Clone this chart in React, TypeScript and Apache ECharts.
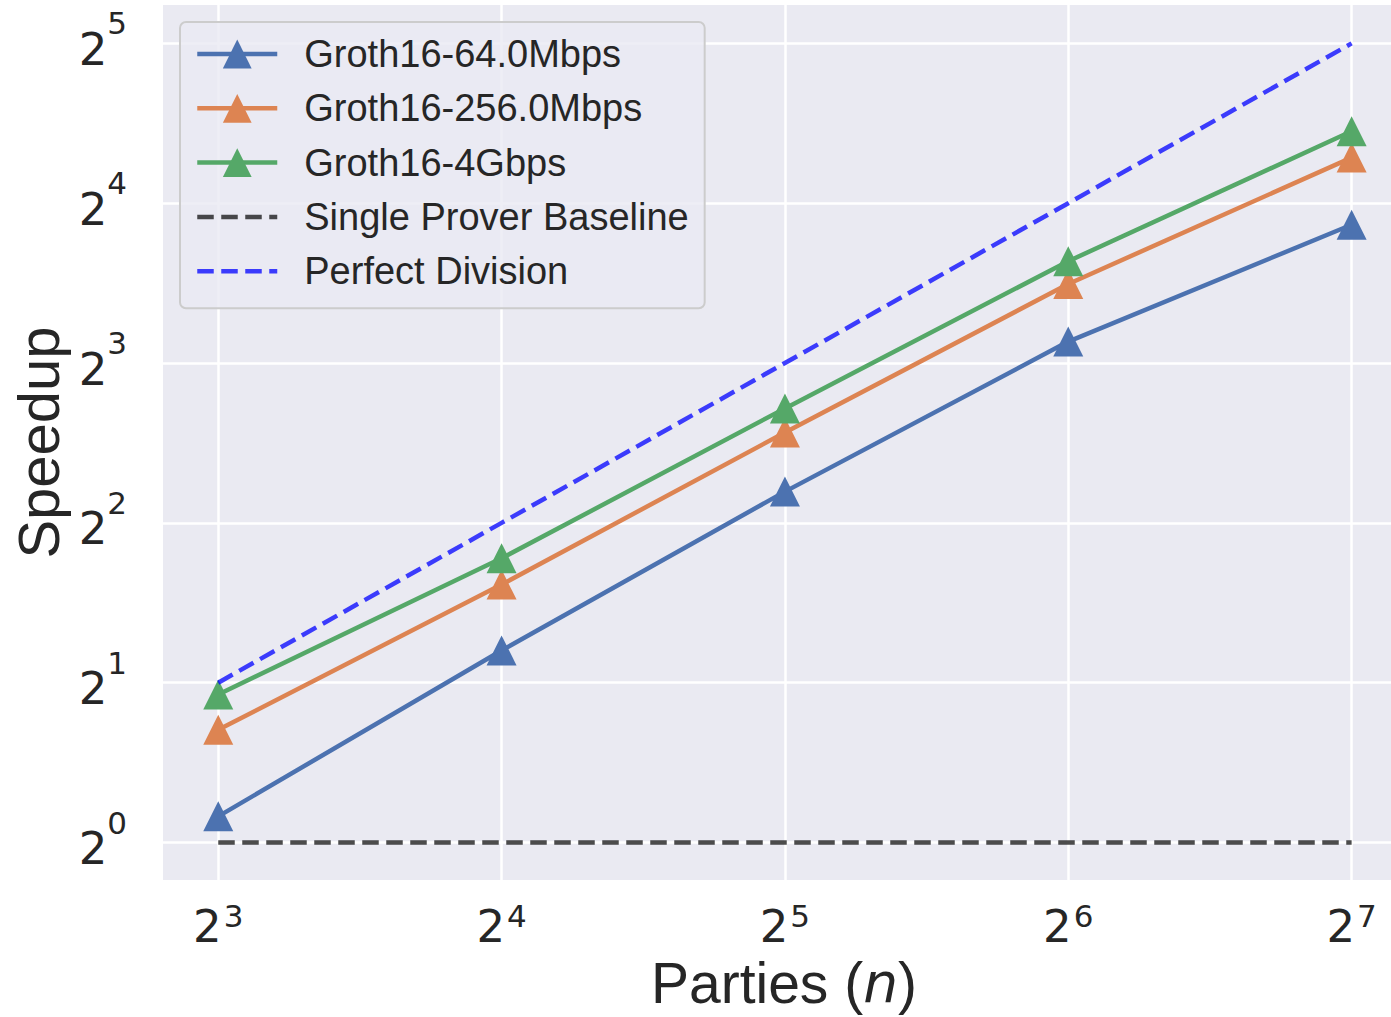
import React, { useEffect, useRef } from 'react';
import * as echarts from 'echarts';

// ---- data ----
const parties = [8, 16, 32, 64, 128];
const groth64M = [1.12, 2.3, 4.58, 8.78, 14.57];
const groth256M = [1.63, 3.06, 5.92, 11.27, 19.5];
const groth4G = [1.9, 3.43, 6.57, 12.44, 21.86];
const singleProver = [1, 1, 1, 1, 1];
const perfectDivision = [2, 4, 8, 16, 32];

const seriesNames = [
  'Groth16-64.0Mbps',
  'Groth16-256.0Mbps',
  'Groth16-4Gbps',
  'Single Prover Baseline',
  'Perfect Division',
];
const seriesValues = [groth64M, groth256M, groth4G, singleProver, perfectDivision];
const seriesColors = ['#4C72B0', '#DD8452', '#55A868', 'rgba(0,0,0,0.7)', 'rgba(0,0,255,0.75)'];
const dashedSeries = [false, false, false, true, true];

const xTitle = 'Parties ({i|n})';
const yTitle = 'Speedup';

const TEXT = '#262626';
const SANS = 'Liberation Sans, Arial, sans-serif';
const DEJAVU = 'DejaVu Sans';

const SOLID_W = 4.5;
const DASH_W = 4.5;
const DASH: number[] = [16.5, 7.5];

function powLabel(v: number): string {
  const e = Math.log2(v);
  const r = Math.round(e);
  if (Math.abs(e - r) > 1e-6) return '';
  return `{b|2}{s|${r}}`;
}

export default function App() {
  const ref = useRef<HTMLDivElement>(null);

  useEffect(() => {
    if (!ref.current) return;
    const chart = echarts.init(ref.current, undefined, { renderer: 'svg' });

    const series = seriesNames.map((name, i) => ({
      name,
      type: 'line',
      data: parties.map((p, j) => [p, seriesValues[i][j]]),
      symbol: dashedSeries[i] ? 'none' : 'triangle',
      symbolSize: 30,
      showSymbol: !dashedSeries[i],
      color: seriesColors[i],
      itemStyle: { color: seriesColors[i] },
      lineStyle: dashedSeries[i]
        ? { color: seriesColors[i], width: DASH_W, type: DASH }
        : { color: seriesColors[i], width: SOLID_W },
      emphasis: { disabled: true },
      z: 2 + i,
    }));

    chart.setOption({
      animation: false,
      backgroundColor: '#ffffff',
      grid: {
        left: 163,
        right: 0,
        top: 5,
        bottom: 137,
        show: true,
        backgroundColor: '#EAEAF2',
        borderWidth: 0,
        containLabel: false,
        outerBoundsMode: 'none',
      },
      xAxis: {
        type: 'log',
        logBase: 2,
        min: Math.pow(2, 2.805),
        max: Math.pow(2, 7.139),
        axisLine: { show: false },
        axisTick: { show: false },
        minorTick: { show: false },
        splitLine: { show: true, showMinLine: false, showMaxLine: false, lineStyle: { color: '#ffffff', width: 2.5 } },
        axisLabel: {
          margin: 20,
          formatter: powLabel,
          showMinLabel: false,
          showMaxLabel: false,
          rich: {
            b: { fontFamily: DEJAVU, fontSize: 45, color: TEXT, lineHeight: 46, padding: [4, 0, 0, 0], verticalAlign: 'top' },
            s: { fontFamily: DEJAVU, fontSize: 31, color: TEXT, lineHeight: 30, padding: [0, 0, 0, 2], verticalAlign: 'top' },
          },
        },
        name: xTitle,
        nameLocation: 'middle',
        nameGap: 75,
        nameTextStyle: {
          fontFamily: SANS,
          fontSize: 57,
          lineHeight: 56,
          color: TEXT,
          padding: [0, 0, 0, 14],
          rich: { i: { fontFamily: DEJAVU, fontSize: 55, lineHeight: 56, color: TEXT, fontStyle: 'italic' } },
        },
      },
      yAxis: {
        type: 'log',
        logBase: 2,
        min: Math.pow(2, -0.2346),
        max: Math.pow(2, 5.24),
        axisLine: { show: false },
        axisTick: { show: false },
        minorTick: { show: false },
        splitLine: { show: true, showMinLine: false, showMaxLine: false, lineStyle: { color: '#ffffff', width: 2.5 } },
        axisLabel: {
          margin: 36,
          formatter: powLabel,
          showMinLabel: false,
          showMaxLabel: false,
          rich: {
            b: { fontFamily: DEJAVU, fontSize: 45, color: TEXT, lineHeight: 71, padding: [19, 0, 0, 0], verticalAlign: 'top' },
            s: { fontFamily: DEJAVU, fontSize: 31, color: TEXT, lineHeight: 71, verticalAlign: 'top' },
          },
        },
        name: yTitle,
        nameLocation: 'middle',
        nameRotate: 90,
        nameGap: 94,
        nameTextStyle: { fontFamily: SANS, fontSize: 58, color: TEXT },
      },
      legend: {
        orient: 'vertical',
        left: 180,
        top: 22,
        padding: [13, 16, 18, 15],
        itemWidth: 80,
        itemHeight: 36,
        itemGap: 16.3,
        backgroundColor: 'rgba(234,234,242,0.8)',
        borderColor: '#cccccc',
        borderWidth: 2,
        borderRadius: 6,
        selectedMode: false,
        textStyle: { fontSize: 38, fontFamily: SANS, color: TEXT, lineHeight: 36, height: 36, padding: [0, 0, 0, 22] },
        data: seriesNames.map((n, i) =>
          dashedSeries[i]
            ? { name: n, itemStyle: { opacity: 0 }, lineStyle: { width: DASH_W, type: DASH, color: seriesColors[i] } }
            : { name: n, lineStyle: { width: SOLID_W, color: seriesColors[i] } }
        ),
      },
      series,
    } as any);

    return () => chart.dispose();
  }, []);

  return (
    <div
      ref={ref}
      style={{ position: 'absolute', left: 0, top: 0, width: 1391, height: 1017 }}
    />
  );
}
